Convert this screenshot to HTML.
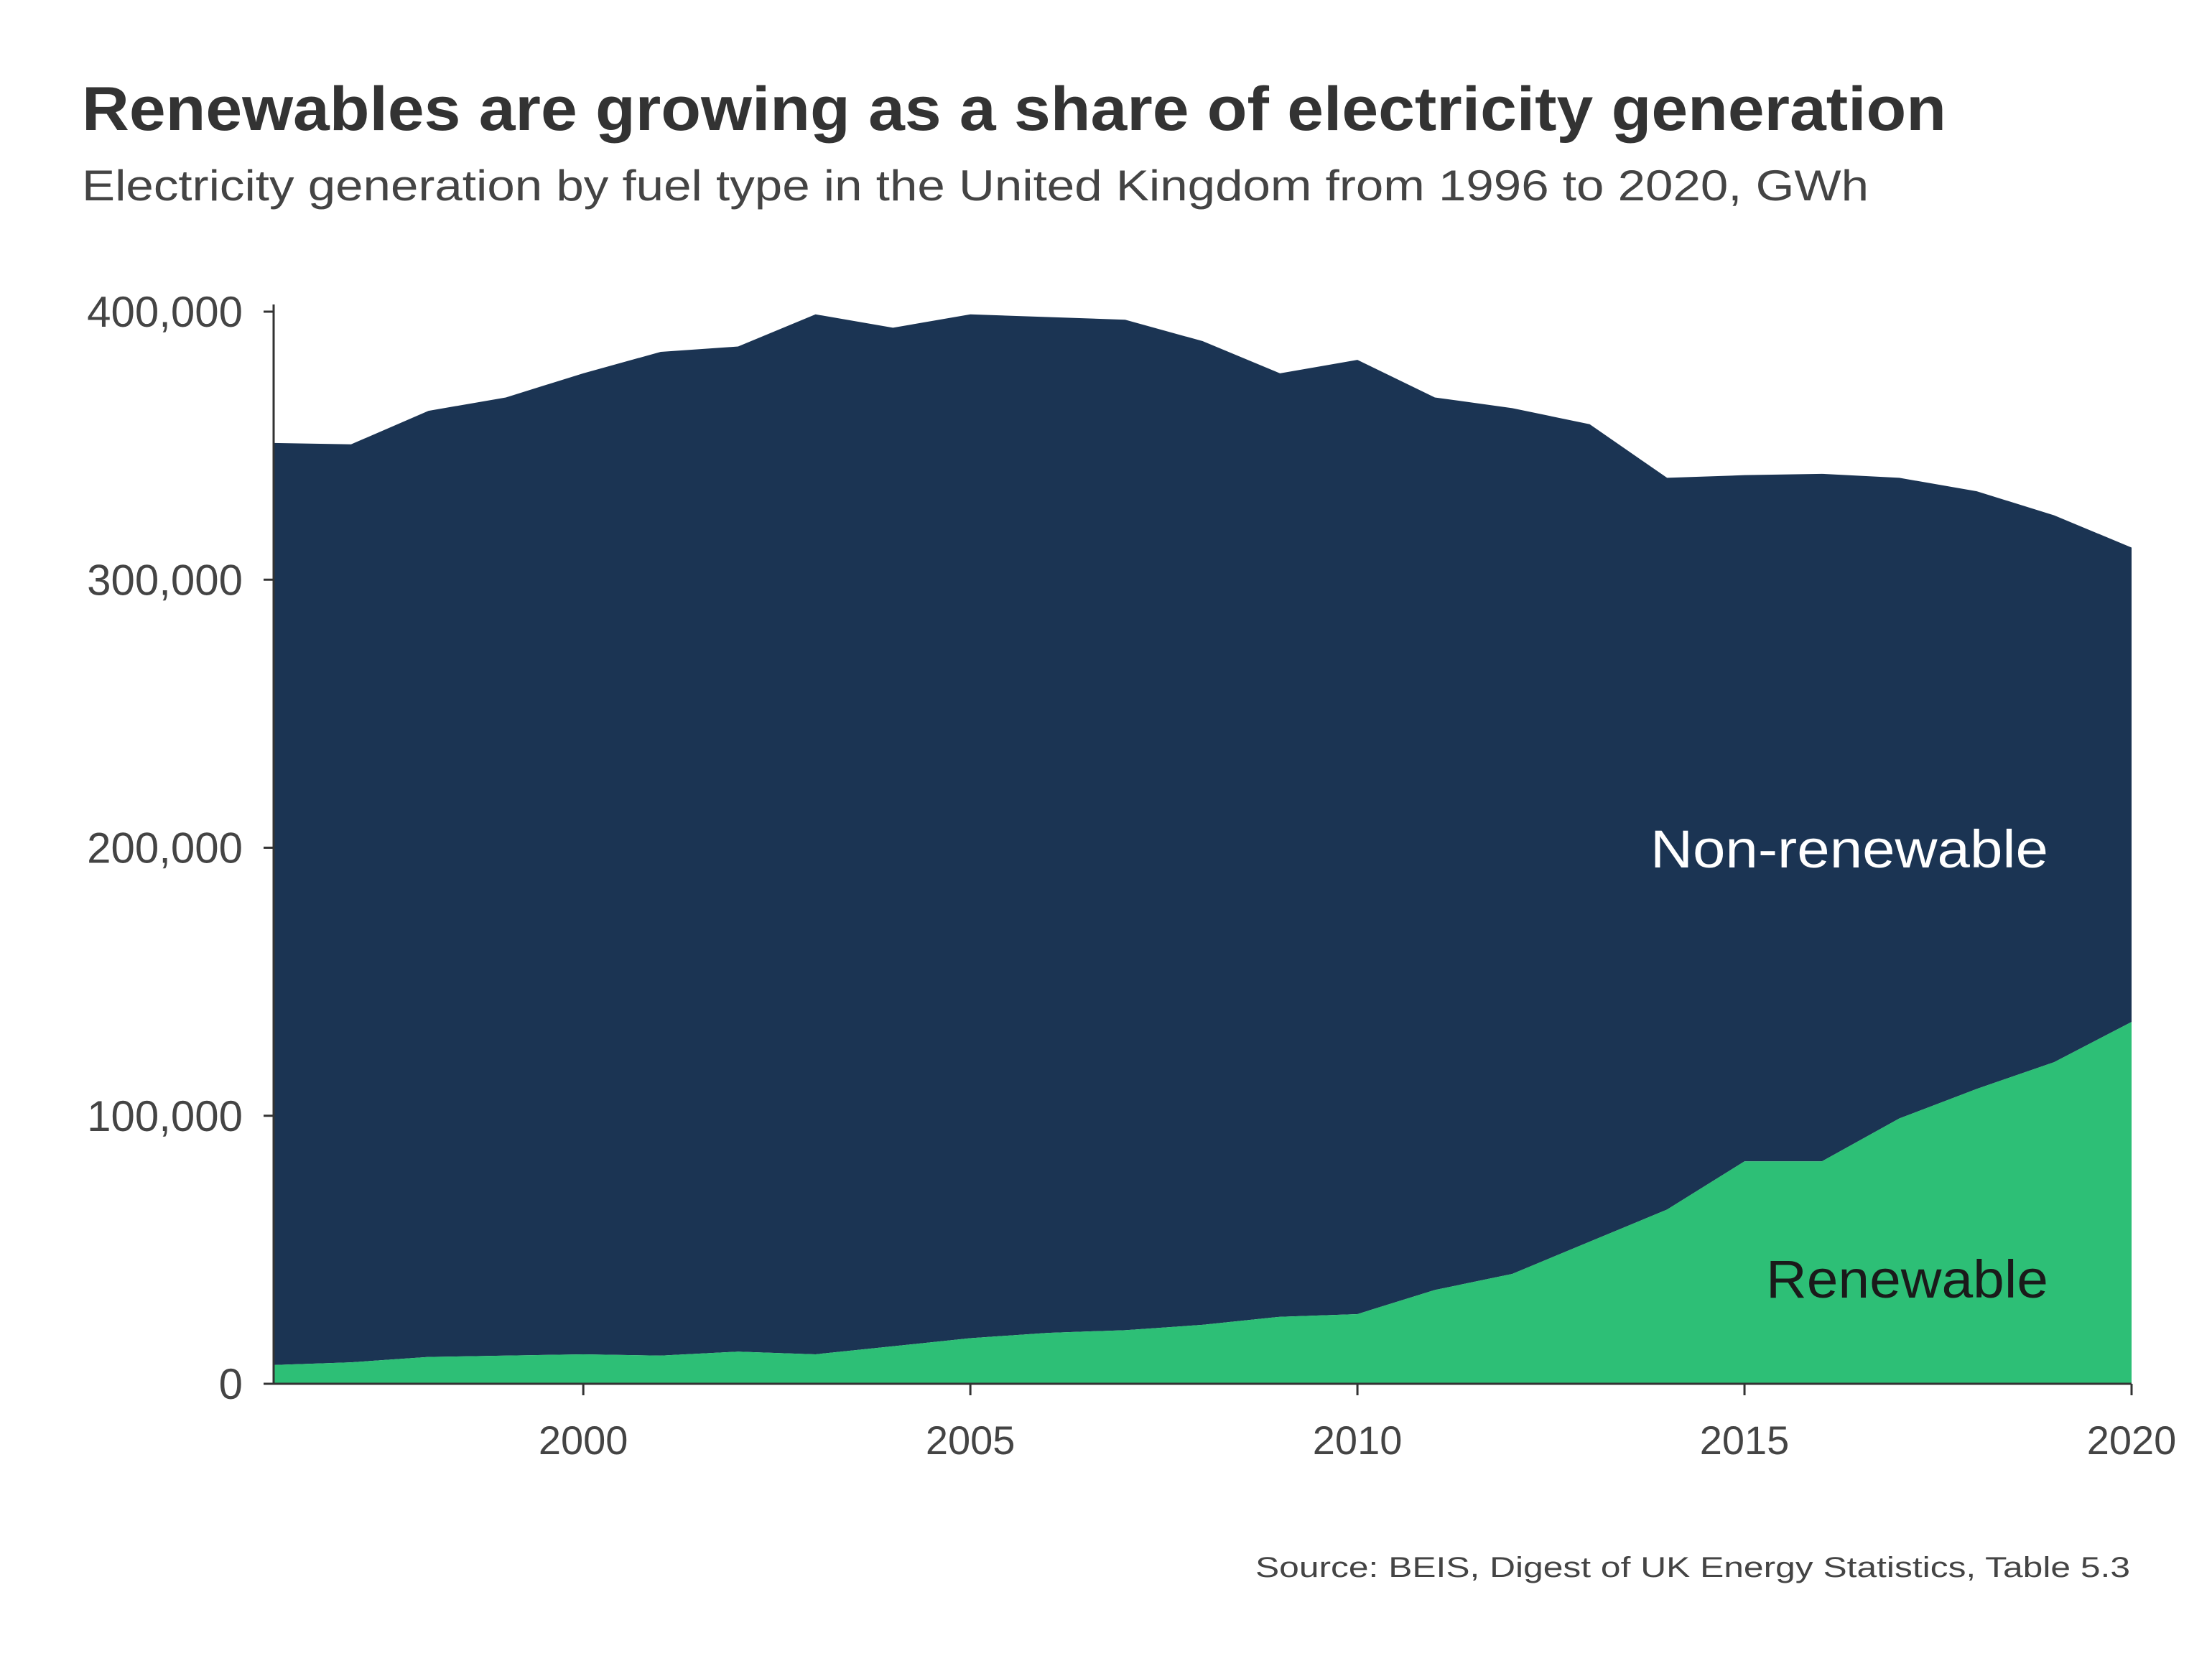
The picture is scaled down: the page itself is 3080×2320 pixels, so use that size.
<!DOCTYPE html>
<html><head><meta charset="utf-8"><style>
html,body{margin:0;padding:0;background:#fff}
svg{display:block;font-family:"Liberation Sans",sans-serif}
</style></head><body>
<svg id="chart" width="3080" height="2320" viewBox="0 0 3080 2320">
<text x="114" y="181" font-size="86" font-weight="bold" fill="#333" textLength="2596" lengthAdjust="spacingAndGlyphs">Renewables are growing as a share of electricity generation</text>
<text x="114" y="279" font-size="60" fill="#444" textLength="2488" lengthAdjust="spacingAndGlyphs">Electricity generation by fuel type in the United Kingdom from 1996 to 2020, GWh</text>
<g id="plot"></g>
<text x="2852" y="1208" font-size="74" fill="#fff" text-anchor="end" textLength="554" lengthAdjust="spacingAndGlyphs">Non-renewable</text>
<text x="2852" y="1807" font-size="74" fill="#1a1a1a" text-anchor="end" textLength="393" lengthAdjust="spacingAndGlyphs">Renewable</text>
<text x="2966" y="2196" font-size="40" fill="#444" text-anchor="end" textLength="1218" lengthAdjust="spacingAndGlyphs">Source: BEIS, Digest of UK Energy Statistics, Table 5.3</text>
</svg>
<script>
const years=[1996,1997,1998,1999,2000,2001,2002,2003,2004,2005,2006,2007,2008,2009,2010,2011,2012,2013,2014,2015,2016,2017,2018,2019,2020];
const totalGen=[351000,350500,363000,368000,377000,385000,387000,399000,394000,399000,398000,397000,389000,377000,382000,368000,364000,358000,338000,339000,339500,338000,333000,324000,312000];
const renewableGen=[7000,8000,10000,10500,11000,10500,12000,11000,14000,17000,19000,20000,22000,25000,26000,35000,41000,53000,65000,83000,83000,99000,110000,120000,135000];
const yTicks=[0,100000,200000,300000,400000];
const xTicks=[2000,2005,2010,2015,2020];
const NS="http://www.w3.org/2000/svg";
const X0=381,X1=2968,Y0=1927,Y1=434;
const xs=y=>X0+(y-1996)/(2020-1996)*(X1-X0);
const ys=v=>Y0-v/400000*(Y0-Y1);
const plotG=document.getElementById('plot');
function mk(t,a){const e=document.createElementNS(NS,t);for(const k in a)e.setAttribute(k,a[k]);plotG.appendChild(e);return e;}
const topPts=years.map((y,i)=>xs(y)+','+ys(totalGen[i]));
const midPts=years.map((y,i)=>xs(y)+','+ys(renewableGen[i]));
const nr=mk('polygon',{points:topPts.concat(midPts.slice().reverse()).join(' '),fill:'#1b3453'});


const rn=mk('polygon',{points:midPts.concat([xs(2020)+','+Y0,xs(1996)+','+Y0]).join(' '),fill:'#2dbf76'});


const ya=mk('line',{x1:X0,y1:Y1-10,x2:X0,y2:Y0,stroke:'#333','stroke-width':3});


const xa=mk('line',{x1:X0,y1:Y0,x2:X1,y2:Y0,stroke:'#333','stroke-width':3});


yTicks.forEach(v=>{
 const t=mk('line',{x1:X0-14,y1:ys(v),x2:X0,y2:ys(v),stroke:'#333','stroke-width':3});
 
 
 const l=mk('text',{x:338,y:ys(v)+21,'font-size':60,fill:'#444','text-anchor':'end'});
 l.textContent=v.toLocaleString('en-US');
 
 
});
xTicks.forEach(v=>{
 const t=mk('line',{x1:xs(v),y1:Y0,x2:xs(v),y2:Y0+16,stroke:'#333','stroke-width':3});
 
 
 const l=mk('text',{x:xs(v),y:2025,'font-size':56,fill:'#444','text-anchor':'middle'});
 l.textContent=v;
 
 
});
</script>
</body></html>
